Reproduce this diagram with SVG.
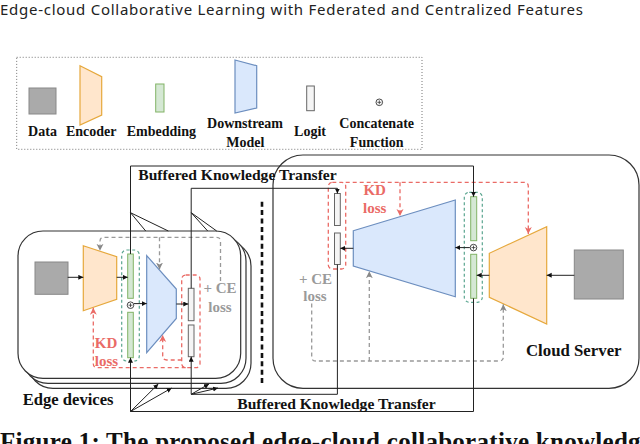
<svg xmlns="http://www.w3.org/2000/svg" width="640" height="444" viewBox="0 0 640 444">
<style>
.lbl{font-family:"Liberation Serif","Times New Roman",serif;font-weight:bold;fill:#111}
.leg{font-size:14px;text-anchor:middle}
.bkt{font-size:15.6px}
.red{font-family:"Liberation Serif",serif;font-weight:bold;font-size:15px;fill:#ea6b66;text-anchor:middle}
.gry{font-family:"Liberation Serif",serif;font-weight:bold;font-size:15px;fill:#9a9a9a;text-anchor:middle}
.box{fill:#fff;stroke:#333;stroke-width:1.2}
.data{fill:#aaa;stroke:#888;stroke-width:1}
.enc{fill:#ffe6cc;stroke:#e6a83c;stroke-width:1.2}
.emb{fill:#d5e8d4;stroke:#82b366;stroke-width:1}
.mdl{fill:#dae8fc;stroke:#6c8ebf;stroke-width:1.2}
.lgt{fill:#f5f5f5;stroke:#666;stroke-width:1}
.teal{fill:none;stroke:#5aa58f;stroke-width:1.2;stroke-dasharray:3 2.5}
.rdash{fill:none;stroke:#ea6b66;stroke-width:1.3;stroke-dasharray:4 3}
.gdash{fill:none;stroke:#999;stroke-width:1.3;stroke-dasharray:4 3}
.ln{fill:none;stroke:#222;stroke-width:1}
.cat{fill:#fff;stroke:#333;stroke-width:0.9}
</style>
<defs>
<marker id="ab" markerUnits="userSpaceOnUse" markerWidth="6" markerHeight="6" refX="5" refY="2.5" orient="auto"><path d="M0,0 L5,2.5 L0,5 Z" fill="#111"/></marker>
<marker id="ar" markerUnits="userSpaceOnUse" markerWidth="8" markerHeight="8" refX="7" refY="3.5" orient="auto"><path d="M0,0 L7,3.5 L0,7 L2,3.5 Z" fill="#ea6b66"/></marker>
<marker id="ag" markerUnits="userSpaceOnUse" markerWidth="8" markerHeight="8" refX="7" refY="3.5" orient="auto"><path d="M0,0 L7,3.5 L0,7 L2,3.5 Z" fill="#888"/></marker>
</defs>

<text x="0" y="15" font-family="'Noto Sans','Liberation Sans',sans-serif" font-size="15" fill="#222" textLength="583">Edge-cloud Collaborative Learning with Federated and Centralized Features</text>

<g id="legend">
<rect x="16.7" y="57.3" width="405.3" height="92" fill="none" stroke="#777" stroke-width="1" stroke-dasharray="1 2"/>
<rect class="data" x="29" y="88" width="27" height="26"/>
<path class="enc" d="M80,65.7 L101.7,76.7 L101.7,115 L80,125 Z"/>
<rect class="emb" x="155.7" y="84" width="8.3" height="28"/>
<path class="mdl" d="M235,60 L256.7,65.7 L256.7,108 L235,113 Z"/>
<rect class="lgt" x="306.7" y="86" width="7.6" height="24.7"/>
<circle class="cat" cx="379.3" cy="102.3" r="3.3"/><path d="M377.3,102.3 H381.3 M379.3,100.3 V104.3" stroke="#333" stroke-width="0.8"/>
<text class="lbl leg" x="42.5" y="136">Data</text>
<text class="lbl leg" x="91.2" y="136">Encoder</text>
<text class="lbl leg" x="161.3" y="136">Embedding</text>
<text class="lbl leg" x="245" y="127.6">Downstream</text>
<text class="lbl leg" x="245.3" y="146.6">Model</text>
<text class="lbl leg" x="310" y="136">Logit</text>
<text class="lbl leg" x="376.7" y="127.6">Concatenate</text>
<text class="lbl leg" x="376.7" y="146.6">Function</text>
</g>

<g id="cloud-server">
<rect class="box" x="273" y="155" width="366" height="233.3" rx="30"/>
<text class="lbl" x="526" y="356.3" font-size="16.8">Cloud Server</text>
</g>

<g id="edge-devices">
<rect class="box" x="28" y="241" width="223" height="147.3" rx="25"/>
<rect class="box" x="23" y="236" width="223" height="147.3" rx="25"/>
<rect class="box" x="18" y="231" width="222.7" height="147.3" rx="25"/>
<text class="lbl" x="22.7" y="404.5" font-size="16.6">Edge devices</text>
</g>

<g id="separator"><path d="M262,201.7 V383.3" stroke="#111" stroke-width="2.6" stroke-dasharray="5 3.4" fill="none"/></g>

<g id="edge-data"><rect class="data" x="35" y="262" width="33" height="32.3"/></g>
<g id="edge-encoder"><path class="enc" d="M83.3,245.7 L116.7,256.7 L116.7,299.3 L83.3,310.7 Z"/></g>
<g id="edge-embedding">
<rect class="teal" x="121.7" y="250" width="17.6" height="111" rx="5"/>
<rect class="emb" x="127.7" y="254" width="5.6" height="44.3"/>
<rect class="emb" x="127.7" y="312.3" width="5.6" height="45.4"/>
<circle class="cat" cx="130.5" cy="305.2" r="3.3"/><path d="M128.5,305.2 H132.5 M130.5,303.2 V307.2" stroke="#333" stroke-width="0.8"/>
</g>
<g id="edge-model"><path class="mdl" d="M146.7,255.7 L176.3,289 L176.3,318.5 L146.7,352.7 Z"/></g>
<g id="edge-logits">
<rect class="rdash" x="181.7" y="275" width="18.3" height="92.7" rx="4"/>
<rect class="lgt" x="188.3" y="288.3" width="5.7" height="32.4"/>
<rect class="lgt" x="188.3" y="325" width="5.7" height="31.7"/>
</g>
<g id="edge-kd-label"><text class="red" x="106" y="348">KD</text><text class="red" x="106.5" y="365.5">loss</text></g>
<g id="edge-ce-label"><text class="gry" x="220" y="293">+ CE</text><text class="gry" x="220" y="311.5">loss</text></g>

<g id="cloud-data"><rect class="data" x="574.3" y="250" width="49" height="49"/></g>
<g id="cloud-encoder"><path class="enc" d="M546.7,226.7 L546.7,324 L489.3,297.3 L489.3,253.3 Z"/></g>
<g id="cloud-embedding">
<rect class="teal" x="464.3" y="192.3" width="18" height="110" rx="5"/>
<rect class="emb" x="470.7" y="196.7" width="6" height="44"/>
<rect class="emb" x="470.7" y="254.3" width="6" height="44"/>
<circle class="cat" cx="473.5" cy="247.6" r="3.3"/><path d="M471.5,247.6 H475.5 M473.5,245.6 V249.6" stroke="#333" stroke-width="0.8"/>
</g>
<g id="cloud-model"><path class="mdl" d="M353.3,230.7 L455.3,200 L455.3,296.7 L353.3,266 Z"/></g>
<g id="cloud-logits">
<rect class="rdash" x="328.3" y="182.3" width="17.4" height="86.7" rx="4"/>
<rect class="lgt" x="334.5" y="193.5" width="5.8" height="32"/>
<rect class="lgt" x="334.5" y="233" width="5.8" height="31.5"/>
</g>
<g id="cloud-kd-label"><text class="red" x="374.7" y="195">KD</text><text class="red" x="374.7" y="213.3">loss</text></g>
<g id="cloud-ce-label"><text class="gry" x="315.5" y="283.5">+ CE</text><text class="gry" x="315" y="300.5">loss</text></g>

<g id="connectors">
<!-- edge flow -->
<path class="ln" d="M67.7,277.3 H83.3" marker-end="url(#ab)"/>
<path class="ln" d="M116.7,277.3 H127.7" marker-end="url(#ab)"/>
<path class="ln" d="M134,303.6 H146.7" marker-end="url(#ab)"/>
<path class="ln" d="M176.3,304 H188.3" marker-end="url(#ab)"/>
<!-- cloud flow -->
<path class="ln" d="M574.3,275.3 H546.7" marker-end="url(#ab)"/>
<path class="ln" d="M489.3,275.3 H476.7" marker-end="url(#ab)"/>
<path class="ln" d="M469.8,247.6 H455.3" marker-end="url(#ab)"/>
<path class="ln" d="M353.3,248.3 H340.3" marker-end="url(#ab)"/>
<!-- edge losses -->
<path class="gdash" d="M220.5,281 V241.3 Q220.5,237.3 216.5,237.3 H104 Q100,237.3 100,241.3 V250.8" marker-end="url(#ag)"/>
<path class="gdash" d="M159.5,237.3 V269.5" marker-end="url(#ag)"/>
<path class="rdash" d="M181.7,360 H166.7 Q162.7,360 162.7,356 V335" marker-end="url(#ar)"/>
<path class="rdash" d="M185.7,367.7 H97.3 Q93.3,367.7 93.3,363.7 V307.8" marker-end="url(#ar)"/>
<!-- cloud losses -->
<path class="rdash" d="M345.7,182.3 H524.3 Q528.3,182.3 528.3,186.3 V234" marker-end="url(#ar)"/>
<path class="rdash" d="M400,182.3 V216" marker-end="url(#ar)"/>
<path class="gdash" d="M311.7,303.5 V357 Q311.7,361 315.7,361 H499.3 Q503.3,361 503.3,357 V304.3" marker-end="url(#ag)"/>
<path class="gdash" d="M369.3,361 V271.3" marker-end="url(#ag)"/>
<!-- buffered knowledge transfer -->
<path class="ln" d="M130.5,254 V166 H473.5 V196.7" marker-end="url(#ab)"/>
<path class="ln" d="M130.5,212.7 L145.7,231 M130.5,212.7 L168.3,231"/>
<path class="ln" d="M191.2,288.3 V188.3 H337.4 V193.5" marker-end="url(#ab)"/>
<path class="ln" d="M191.2,212.7 L207.7,231 M191.2,212.7 L216.7,231"/>
<path class="ln" d="M473.5,298.3 V411.5 H130.5 V357.7" marker-end="url(#ab)"/>
<path class="ln" d="M130.5,411.5 L158.3,384" marker-end="url(#ab)"/>
<path class="ln" d="M130.5,411.5 L171.7,388" marker-end="url(#ab)"/>
<path class="ln" d="M337.4,264.5 V394.3 H191.2 V356.7" marker-end="url(#ab)"/>
<path class="ln" d="M191.2,394.3 L209,384" marker-end="url(#ab)"/>
<path class="ln" d="M191.2,394.3 L218,388" marker-end="url(#ab)"/>
</g>
<text class="lbl bkt" x="138.3" y="180">Buffered Knowledge Transfer</text>
<text class="lbl bkt" x="237.3" y="408.5">Buffered Knowledge Transfer</text>

<text class="lbl" x="0" y="449.5" font-size="25" textLength="652">Figure 1: The proposed edge-cloud collaborative knowledge</text>
</svg>
